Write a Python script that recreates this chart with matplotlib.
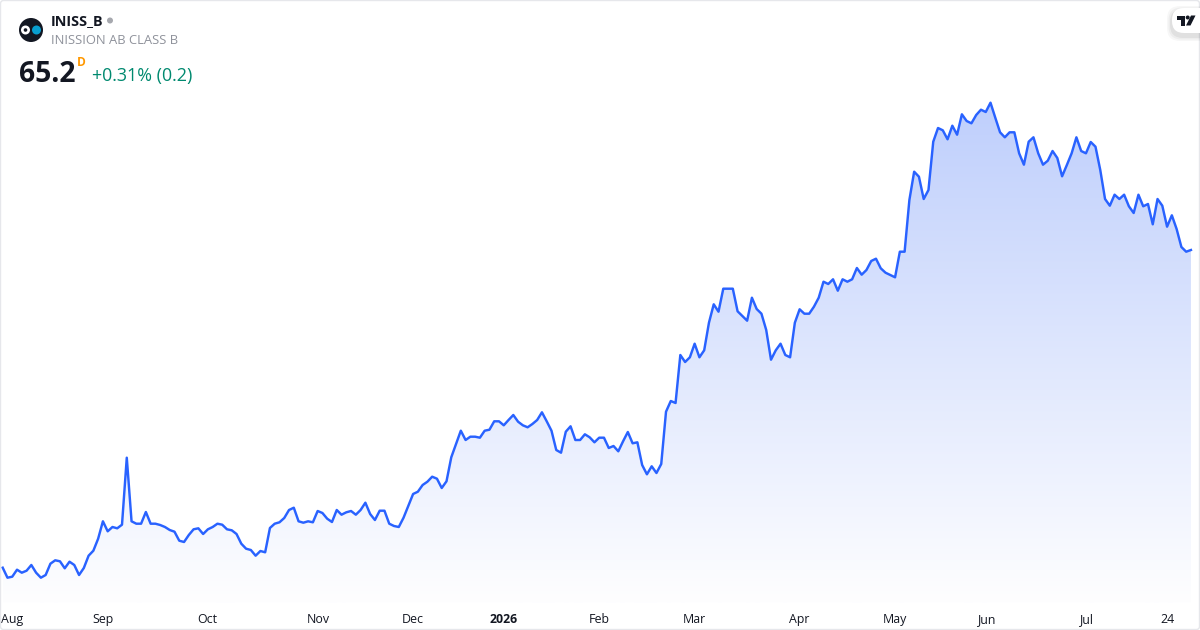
import numpy as np
import matplotlib.pyplot as plt
from matplotlib.colors import LinearSegmentedColormap
from matplotlib.patches import Circle, FancyBboxPatch, Polygon

plt.rcParams['font.family'] = ['Open Sans', 'DejaVu Sans']

# Daily close
prices = [
    33.43, 32.43, 32.53, 33.23, 32.93, 33.13, 33.70, 32.93, 32.43, 32.70,
    33.83, 34.17, 34.07, 33.37, 34.03, 33.70, 32.70, 33.40, 34.63, 35.13,
    36.33, 38.07, 37.07, 37.50, 37.37, 37.73, 44.43, 38.07, 37.83, 37.83,
    39.00, 37.83, 37.83, 37.70, 37.50, 37.20, 37.03, 36.13, 36.00, 36.70,
    37.27, 37.37, 36.80, 37.27, 37.50, 37.83, 37.73, 37.27, 37.17, 36.80,
    35.83, 35.33, 35.20, 34.63, 35.10, 34.97, 37.40, 37.83, 37.97, 38.40,
    39.20, 39.43, 38.07, 37.93, 38.07, 37.97, 39.10, 38.90, 38.33, 38.00,
    39.20, 38.73, 38.97, 39.10, 38.73, 39.20, 39.93, 38.80, 38.20, 39.13,
    39.13, 37.83, 37.60, 37.50, 38.43, 39.63, 40.80, 41.03, 41.70, 42.03,
    42.53, 42.33, 41.40, 42.07, 44.47, 45.80, 47.13, 46.20, 46.53, 46.53,
    46.43, 47.13, 47.23, 48.07, 48.07, 47.67, 48.20, 48.70, 48.03, 47.67,
    47.47, 47.80, 48.20, 48.97, 48.07, 47.13, 45.20, 44.93, 47.03, 47.57,
    46.20, 46.20, 46.77, 46.47, 45.97, 46.43, 46.43, 45.40, 45.60, 45.07,
    46.07, 47.00, 45.87, 45.97, 43.70, 42.77, 43.57, 42.90, 43.80, 49.03,
    50.10, 49.90, 54.70, 54.00, 54.47, 55.83, 54.47, 55.17, 57.93, 59.77,
    59.03, 61.33, 61.33, 61.33, 59.07, 58.60, 58.13, 60.43, 59.30, 58.83,
    57.20, 54.23, 55.17, 55.83, 54.70, 54.47, 57.93, 59.27, 58.83, 58.83,
    59.53, 60.43, 62.03, 61.80, 62.27, 61.13, 62.27, 62.03, 62.27, 63.40,
    62.73, 63.20, 64.10, 64.33, 63.37, 62.93, 62.70, 62.47, 65.03, 65.03,
    70.20, 73.03, 72.53, 70.30, 71.20, 76.03, 77.40, 77.17, 76.27, 77.63,
    76.73, 78.77, 78.10, 77.87, 78.70, 79.23, 79.00, 79.93, 78.43, 76.97,
    76.47, 76.97, 76.97, 74.87, 73.73, 76.03, 76.47, 74.87, 73.73, 74.13,
    75.10, 74.40, 72.57, 73.70, 74.87, 76.47, 75.10, 74.87, 76.00, 75.53,
    73.20, 70.30, 69.63, 70.73, 70.30, 70.73, 69.57, 68.90, 70.73, 69.57,
    69.80, 67.77, 70.30, 69.63, 67.53, 68.67, 67.30, 65.50, 65.03, 65.20,
]
tick_pos = [2, 21, 42.8, 66.1, 86, 105, 125, 145, 167, 187, 206, 227, 244]
tick_labels = ['Aug', 'Sep', 'Oct', 'Nov', 'Dec', '2026', 'Feb', 'Mar', 'Apr', 'May', 'Jun', 'Jul', '24']

days = np.arange(len(prices))
W, H = 1200, 630
BOTTOM = 603

fig = plt.figure(figsize=(12, 6.3), dpi=100, facecolor='white')

# price axes: the area above the date labels
ax = fig.add_axes([0, 1 - BOTTOM / H, 1, BOTTOM / H])
for side in ax.spines.values():
    side.set_visible(False)
ax.yaxis.set_visible(False)
ax.set_xticks(tick_pos)
ax.set_xticklabels(tick_labels, fontsize=8.9, color='#131722')
ax.tick_params(axis='x', length=0, pad=7.5)
ax.get_xticklabels()[5].set_fontweight('bold')

# gradient under the line
fill = ax.fill_between(days, prices, 29.9, color='none', linewidth=0)
cmap = LinearSegmentedColormap.from_list('area', ['#feFEff', '#bfcffc'])
grad = np.linspace(1, 0, 256).reshape(-1, 1)
img = ax.imshow(grad, cmap=cmap, aspect='auto', extent=[0, len(prices) - 1, 29.9, max(prices)], zorder=1)
img.set_clip_path(fill.get_paths()[0], transform=ax.transData)
ax.set_xlim(-0.566, 250.9)
ax.set_ylim(29.9, 90.2)
ax.plot(days, prices, color='#2962ff', linewidth=1.75, solid_joinstyle='round', zorder=2)

# header, logo and card border in pixel coordinates
top = fig.add_axes([0, 0, 1, 1], facecolor='none')
top.set_xlim(0, W)
top.set_ylim(H, 0)
top.axis('off')
top.add_patch(FancyBboxPatch((0.5, 0.5), W - 1, H - 1, boxstyle='round,pad=0,rounding_size=3',
                             fc='none', ec='#e6e7eb', lw=1))

top.add_patch(Circle((31, 30), 12, fc='#131722', ec='none'))
top.add_patch(Circle((25.5, 30), 4.5, fc='white', ec='none'))
top.add_patch(Circle((25.5, 30), 1.8, fc='#131722', ec='none'))
top.add_patch(Circle((36.5, 30), 4.5, fc='#089ecf', ec='none'))

top.text(51, 21, 'INISS_B', fontsize=10.4, fontweight='bold', color='#131722', va='center')
top.add_patch(Circle((110, 20.5), 3, fc='#a6a8ae', ec='none'))
top.text(51, 41, 'INISSION AB CLASS B', fontsize=9.35, color='#8f929b', va='center')
top.text(19, 74, '65.2', fontsize=20.3, fontweight='bold', color='#131722', va='center')
top.text(77, 62, 'D', fontsize=8.6, fontweight='bold', color='#ff9800', va='center')
top.text(92, 76, '+0.31% (0.2)', fontsize=12.85, color='#00896f', va='center')

# TradingView badge
for off, alpha in ((5, 0.03), (3.5, 0.04), (2, 0.05)):
    top.add_patch(FancyBboxPatch((1172 - off, 8 - off + 3), 40 + 2 * off, 25 + 2 * off,
                                 boxstyle='round,pad=0,rounding_size=13', fc='black', ec='none', alpha=alpha))
top.add_patch(FancyBboxPatch((1172, 8), 40, 25, boxstyle='round,pad=0,rounding_size=12', fc='white', ec='none'))
top.add_patch(Polygon([(1176.5, 15.5), (1185, 15.5), (1185, 25.5), (1181, 25.5), (1181, 19.5), (1176.5, 19.5)],
                      fc='#131722', ec='none'))
top.add_patch(Circle((1187.7, 17.5), 2, fc='#131722', ec='none'))
top.add_patch(Polygon([(1191, 15.5), (1195.5, 15.5), (1190.5, 25.5), (1186, 25.5)], fc='#131722', ec='none'))

fig.savefig('out.png', dpi=100)
